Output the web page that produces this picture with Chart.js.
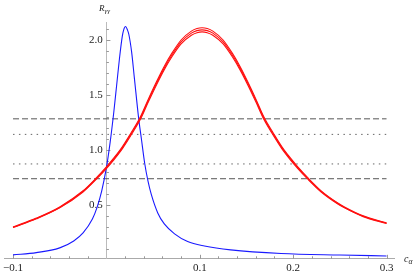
<!DOCTYPE html>
<html><head><meta charset="utf-8">
<script src="https://cdn.jsdelivr.net/npm/chart.js@4.4.1/dist/chart.umd.min.js"></script>
<style>html,body{margin:0;padding:0;background:#fff;overflow:hidden}</style>
</head><body>
<canvas id="c" width="415" height="276"></canvas>
<script>
// ---- data ----
const blueX = [-0.1, -0.075, -0.05, -0.035, -0.025, -0.015, -0.01, -0.005, 0, 0.004, 0.008, 0.011, 0.014, 0.017, 0.0185, 0.0205, 0.0225, 0.024, 0.027, 0.030, 0.0345, 0.0375, 0.041, 0.0445, 0.048, 0.055, 0.062, 0.073, 0.087, 0.105, 0.133, 0.187, 0.25, 0.3];
const blueY = [0.05, 0.07, 0.113, 0.176, 0.249, 0.375, 0.48, 0.63, 0.84, 1.07, 1.35, 1.59, 1.83, 2.03, 2.09, 2.12, 2.09, 2.05, 1.89, 1.65, 1.29, 1.10, 0.88, 0.72, 0.60, 0.43, 0.33, 0.24, 0.17, 0.13, 0.095, 0.062, 0.048, 0.04];

const redX = [-0.1, -0.075, -0.05, -0.025, -0.0104, 0, 0.008, 0.017, 0.026, 0.036, 0.045, 0.054, 0.062, 0.07, 0.080, 0.091, 0.097, 0.1025, 0.108, 0.114, 0.125, 0.135, 0.143, 0.151, 0.16, 0.169, 0.179, 0.188, 0.197, 0.205, 0.2154, 0.23, 0.247, 0.255, 0.275, 0.3];
const redTopY = [0.3027, 0.3834, 0.4843, 0.6306, 0.7517, 0.8476, 0.9283, 1.0292, 1.1503, 1.2945, 1.4641, 1.6265, 1.7607, 1.8767, 1.9978, 2.0785, 2.1017, 2.1088, 2.1017, 2.0785, 1.9978, 1.8767, 1.7607, 1.6265, 1.4641, 1.2945, 1.1503, 1.0292, 0.9283, 0.8476, 0.7517, 0.6306, 0.5247, 0.4843, 0.4036, 0.340];
const redMidY = [0.30, 0.38, 0.48, 0.625, 0.745, 0.84, 0.92, 1.02, 1.14, 1.283, 1.451, 1.612, 1.745, 1.86, 1.98, 2.06, 2.083, 2.09, 2.083, 2.06, 1.98, 1.86, 1.745, 1.612, 1.451, 1.283, 1.14, 1.02, 0.92, 0.84, 0.745, 0.625, 0.52, 0.48, 0.40, 0.337];
const redLowY = [0.2973, 0.3766, 0.4757, 0.6194, 0.7383, 0.8324, 0.9117, 1.0108, 1.1297, 1.2715, 1.4379, 1.5975, 1.7293, 1.8433, 1.9622, 2.0415, 2.0643, 2.0712, 2.0643, 2.0415, 1.9622, 1.8433, 1.7293, 1.5975, 1.4379, 1.2715, 1.1297, 1.0108, 0.9117, 0.8324, 0.7383, 0.6194, 0.5153, 0.4757, 0.3964, 0.334];

const refX = [-0.1, 0.3];
const dashedLevels = [1.283, 0.74];
const dottedLevels = [1.142, 0.874];

const xMajorTicks = [-0.1, 0.1, 0.2, 0.3];
const xTickLabels = ['\u22120.1', '0.1', '0.2', '0.3'];
const xMinorTicks = [-0.08, -0.06, -0.04, -0.02, 0.02, 0.04, 0.06, 0.08, 0.12, 0.14, 0.16, 0.18, 0.22, 0.24, 0.26, 0.28];
const yMajorTicks = [0.5, 1.0, 1.5, 2.0];
const yTickLabels = ['0.5', '1.0', '1.5', '2.0'];
const yMinorTicks = [0.1, 0.2, 0.3, 0.4, 0.6, 0.7, 0.8, 0.9, 1.1, 1.2, 1.3, 1.4, 1.6, 1.7, 1.8, 1.9, 2.1];

const xLabelMain = 'c', xLabelSub = '\u03b1';
const yLabelMain = 'R', yLabelSub = '\u03b3\u03b3';

// ---- build datasets ----
const pts = (xs, ys) => xs.map((x, i) => ({x: x, y: ys[i]}));
const curve = (xs, ys, color, w, order) => ({
  data: pts(xs, ys), borderColor: color, borderWidth: w, showLine: true,
  pointRadius: 0, cubicInterpolationMode: 'monotone', order: order, fill: false
});
const refLine = (level, dash, color) => ({
  data: pts(refX, [level, level]), borderColor: color, borderWidth: 1, showLine: true,
  pointRadius: 0, borderDash: dash, order: 10, fill: false
});

const datasets = [
  ...dashedLevels.map(l => refLine(l, [6, 3], '#555')),
  ...dottedLevels.map(l => refLine(l, [1.5, 4.4], '#666')),
  curve(blueX, blueY, '#1a1aff', 1.1, 3),
  curve(redX, redTopY, '#ff1010', 1.1, 2),
  curve(redX, redMidY, '#ff1010', 1.1, 1),
  curve(redX, redLowY, '#ff1010', 1.1, 0)
];

const tickPlugin = {
  id: 'ticksAndTitles',
  beforeDatasetsDraw(chart) {
    const ctx = chart.ctx, xs = chart.scales.x, ys = chart.scales.y;
    const yb = ys.getPixelForValue(ys.min);
    const x0 = xs.getPixelForValue(0);
    ctx.save();
    ctx.strokeStyle = '#999';
    ctx.lineWidth = 1;
    const vt = (v, len) => { const p = Math.round(xs.getPixelForValue(v)) + 0.5; ctx.beginPath(); ctx.moveTo(p, yb); ctx.lineTo(p, yb - len); ctx.stroke(); };
    const ht = (v, len) => { const p = Math.round(ys.getPixelForValue(v)) + 0.5; ctx.beginPath(); ctx.moveTo(x0, p); ctx.lineTo(x0 + len, p); ctx.stroke(); };
    xMajorTicks.forEach(v => vt(v, 4));
    xMinorTicks.forEach(v => vt(v, 2.5));
    yMajorTicks.forEach(v => ht(v, 4));
    yMinorTicks.forEach(v => ht(v, 2.5));
    ctx.restore();
  },
  afterDraw(chart) {
    const ctx = chart.ctx, xs = chart.scales.x, ys = chart.scales.y;
    const x0 = xs.getPixelForValue(0);
    ctx.save();
    ctx.fillStyle = '#222';
    ctx.textBaseline = 'alphabetic';
    ctx.font = 'italic 9px "Liberation Serif"';
    ctx.fillText(yLabelMain, x0 - 7.5, 10.5);
    ctx.font = 'italic 7px "Liberation Serif"';
    ctx.fillText(yLabelSub, x0 - 2, 12.5);
    const xr = xs.right;
    const yb = ys.getPixelForValue(ys.min);
    ctx.font = 'italic 10px "Liberation Serif"';
    ctx.fillText(xLabelMain, xr + 10, yb + 3.5);
    ctx.font = 'italic 7.5px "Liberation Serif"';
    ctx.fillText(xLabelSub, xr + 14.5, yb + 5);
    ctx.restore();
  }
};

const findLabel = (ticks, labels, v) => {
  const i = ticks.findIndex(t => Math.abs(t - v) < 1e-9);
  return i >= 0 ? labels[i] : '';
};

new Chart(document.getElementById('c'), {
  type: 'scatter',
  data: {datasets: datasets},
  options: {
    responsive: false, animation: false, devicePixelRatio: 1,
    layout: {padding: {left: 2, right: 21, top: 22, bottom: -2}},
    plugins: {legend: {display: false}, tooltip: {enabled: false}},
    scales: {
      x: {
        type: 'linear', min: -0.1096, max: 0.308, position: 'bottom',
        afterBuildTicks: s => { s.ticks = xMajorTicks.map(v => ({value: v})); },
        ticks: {
          callback: v => findLabel(xMajorTicks, xTickLabels, v),
          font: {family: 'Liberation Serif', size: 11}, color: '#222', padding: 3,
          maxRotation: 0, autoSkip: false
        },
        grid: {display: true, drawOnChartArea: false, drawTicks: false},
        border: {display: true, color: '#aaa', width: 1}
      },
      y: {
        type: 'linear', min: 0.014, max: 2.161, position: {x: 0},
        afterBuildTicks: s => { s.ticks = yMajorTicks.map(v => ({value: v})); },
        ticks: {
          callback: v => { const t = findLabel(yMajorTicks, yTickLabels, v); return t ? t + ' \u200a' : ''; },
          font: {family: 'Liberation Serif', size: 11}, color: '#222', padding: 4,
          autoSkip: false
        },
        grid: {display: true, drawOnChartArea: false, drawTicks: false},
        border: {display: true, color: '#bbb', width: 1}
      }
    }
  },
  plugins: [tickPlugin]
});
</script>
</body></html>
